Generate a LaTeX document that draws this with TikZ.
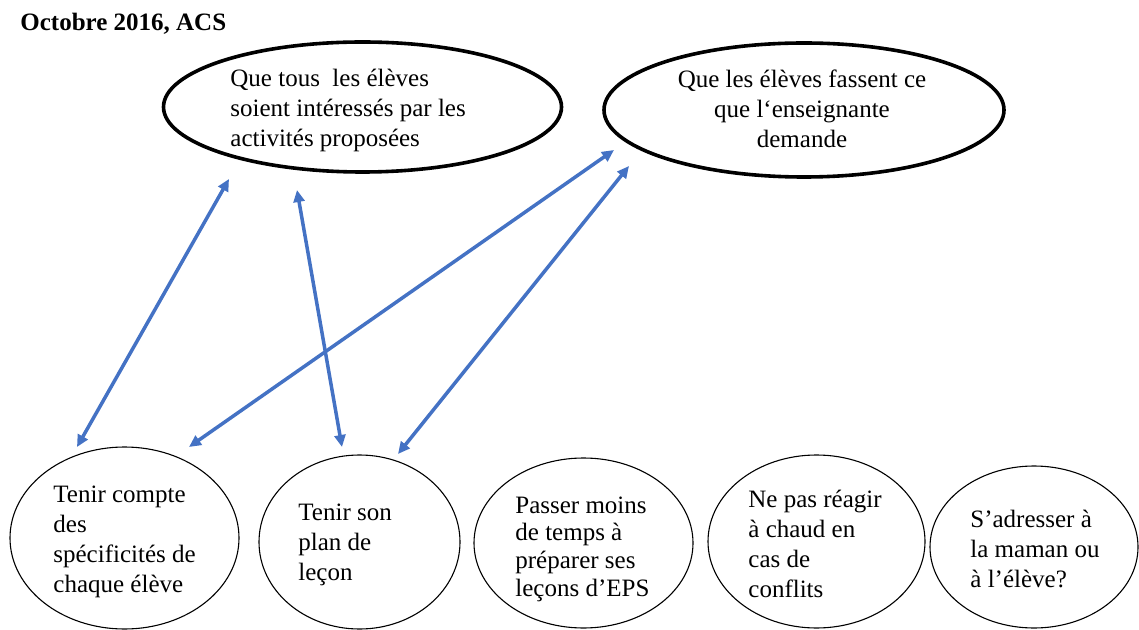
\documentclass[tikz,border=0pt]{standalone}
\usepackage{fontspec}
\setmainfont{Liberation Serif}
\usetikzlibrary{shapes.geometric,arrows.meta}
\definecolor{arrowblue}{HTML}{4472C4}
\tikzset{
  topell/.style={draw=black, line width=1.8pt, ellipse, inner sep=0pt},
  botell/.style={draw=black, line width=0.55pt, ellipse, inner sep=0pt},
  txt/.style={inner sep=0pt, font=\fontsize{12.5}{15}\selectfont},
  link/.style={draw=arrowblue, line width=1.75pt, {Triangle[length=6pt,width=5.5pt]}-{Triangle[length=6pt,width=5.5pt]}}
}
\begin{document}
\begin{tikzpicture}[x=0.5pt,y=-0.5pt]
\useasboundingbox (0,0) rectangle (1139,630);

% title
\node[txt, anchor=base west, font=\fontsize{12.5}{15}\selectfont\bfseries] (title) at (20,31) {Octobre 2016, ACS};

% top ellipses
\node[topell, minimum width=398pt/2, minimum height=130pt/2] (tl) at (362.5,107) {};
\node[topell, minimum width=400pt/2, minimum height=134pt/2] (tr) at (804,110) {};

\node[txt, anchor=base west] (tltext) at (230,87) {\parbox[t]{150pt}{\raggedright
Que tous~ les élèves\\soient intéressés par les\\activités proposées}};
\node[txt, anchor=base] (trtext) at (802,88) {\parbox[t]{150pt}{\centering
Que les élèves fassent ce\\que l‘enseignante\\demande}};

% bottom ellipses
\node[botell, minimum width=229pt/2, minimum height=182pt/2] (b1) at (124.5,538) {};
\node[botell, minimum width=201pt/2, minimum height=174pt/2] (b2) at (359.5,542) {};
\node[botell, minimum width=219pt/2, minimum height=170pt/2] (b3) at (583.5,543) {};
\node[botell, minimum width=217pt/2, minimum height=173pt/2] (b4) at (816.5,541.5) {};
\node[botell, minimum width=208pt/2, minimum height=162pt/2] (b5) at (1034,547) {};

\node[txt, anchor=base west] (b1text) at (53,502) {\parbox[t]{100pt}{\raggedright
Tenir compte\\des\\spécificités de\\chaque élève}};
\node[txt, anchor=base west] (b2text) at (298,520) {\parbox[t]{100pt}{\raggedright
Tenir son\\plan de\\leçon}};
\node[txt, anchor=base west, font=\fontsize{12.5}{13.9}\selectfont] (b3text) at (515,513) {\parbox[t]{100pt}{\raggedright
Passer moins\\de temps à\\préparer ses\\leçons d’EPS}};
\node[txt, anchor=base west] (b4text) at (748,507) {\parbox[t]{100pt}{\raggedright
Ne pas réagir\\à chaud en\\cas de\\conflits}};
\node[txt, anchor=base west] (b5text) at (970,527) {\parbox[t]{100pt}{\raggedright
S’adresser à\\la maman ou\\à l’élève?}};

% arrow end points
\coordinate (a1t) at (229,179);
\coordinate (a1b) at (77,447);
\coordinate (a2t) at (297,190);
\coordinate (a2b) at (342,447);
\coordinate (a3t) at (614,150);
\coordinate (a3b) at (189,447);
\coordinate (a4t) at (629,166);
\coordinate (a4b) at (398,454);

\draw[link] (a1t) -- (a1b);
\draw[link] (a2t) -- (a2b);
\draw[link] (a3t) -- (a3b);
\draw[link] (a4t) -- (a4b);
\end{tikzpicture}
\end{document}
